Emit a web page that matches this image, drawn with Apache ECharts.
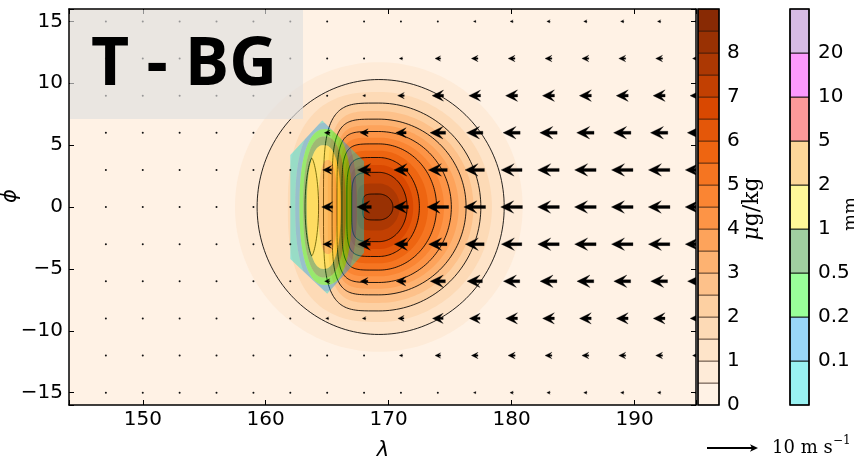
<!DOCTYPE html>
<html><head><meta charset="utf-8">
<script src="https://cdn.jsdelivr.net/npm/echarts@6/dist/echarts.min.js"></script>
<style>html,body{margin:0;padding:0;background:#fff}#c{width:854px;height:461px}</style>
</head><body><div id="c"></div>
<script>
// ---------------- data ----------------
const xRange = [144, 195];
const yRange = [-16, 16];

// concentration (µg/kg) filled-contour band boundaries
const concBounds = [0,0.5,1,1.5,2,2.5,3,3.5,4,4.5,5,5.5,6,6.5,7,7.5,8,8.5,9];
const concTickLabels = [0,1,2,3,4,5,6,7,8];
// contour shapes of the concentration field
const concCenter = [169.2, 0];
const fillLevels = [0.5,1,1.5,2,2.5,3,3.5,4,4.5,5,5.5,6,6.5,7,7.5,8];
const fillRx     = [11.7,10.2,9.2,8.3,7.7,7.1,6.5,5.9,5.3,4.7,4.0,3.3,2.8,2.3,1.7,1.15];
const fillRy     = [11.7,10.3,9.3,8.4,7.75,7.1,6.6,6.1,5.6,5.1,4.55,4.0,3.4,2.8,1.9,1.05];
const fillXLeft  = [157.5,159.3,161.8,164.7,165.05,165.4,165.6,165.8,166.0,166.2,166.4,166.6,166.8,167.0,167.45,167.9];
const fillBoxy   = [2,2,2.6,4,4,4.5,4.5,5,5,5,5,5,5,5,5,5];
// small closed contour west of the centre
const lensLevel = 2;
const lensCenter = [163.75, 0];
const lensRx = 0.55;
const lensRy = 3.95;

// precipitation (mm) bands
const precipBounds = [0.05,0.1,0.2,0.5,1,2,5,10,20];
const precipTickLabels = ['0.1','0.2','0.5','1','2','5','10','20'];
const precipHull = [[162,4.2],[164.6,7.0],[168,3.7],[168,-3.7],[165,-7.0],[162,-4.2]];
const precipLeft  = [null,162.4,162.75,163.05,163.35,164.3];
const precipRight = [null,167.4,167.0,166.5,166.1,165.8];
const precipHalfH = [null,6.8,6.3,5.7,5.0,3.8];

// wind (m/s) on a 3-degree grid, pivot at the grid point
const windX = [147,150,153,156,159,162,165,168,171,174,177,180,183,186,189,192,195];
const windY = [15,12,9,6,3,0,-3,-6,-9,-12,-15];
const windU = [
 [-0.05,-0.05,-0.05,-0.05,-0.05,-0.05,-0.05,-0.1,-0.2,-0.35,-0.5,-0.6,-0.65,-0.65,-0.65,-0.65,-0.65],
 [-0.05,-0.05,-0.05,-0.05,-0.05,-0.05,-0.1,-0.2,-0.65,-1.1,-1.3,-1.35,-1.35,-1.35,-1.35,-1.35,-1.35],
 [-0.05,-0.05,-0.05,-0.05,-0.05,-0.1,-0.4,-0.55,-1.3,-2.25,-2.3,-2.35,-2.35,-2.35,-2.35,-2.35,-2.35],
 [-0.05,-0.05,-0.05,-0.05,-0.1,-0.15,-1.1,-1.6,-2.05,-3.05,-3.2,-3.35,-3.4,-3.4,-3.4,-3.4,-3.4],
 [-0.05,-0.05,-0.05,-0.05,-0.1,-0.3,-1.75,-2.55,-2.75,-3.7,-3.8,-4.1,-4.2,-4.2,-4.2,-4.2,-4.2],
 [-0.05,-0.05,-0.05,-0.05,-0.1,-0.4,-2.15,-2.85,-2.95,-4.25,-4.25,-4.25,-4.25,-4.25,-4.25,-4.25,-4.25],
 [-0.05,-0.05,-0.05,-0.05,-0.1,-0.3,-1.7,-2.45,-2.6,-3.6,-3.7,-4.0,-4.2,-4.2,-4.2,-4.2,-4.2],
 [-0.05,-0.05,-0.05,-0.05,-0.1,-0.15,-1.0,-1.5,-1.9,-2.95,-3.0,-3.2,-3.3,-3.3,-3.3,-3.3,-3.3],
 [-0.05,-0.05,-0.05,-0.05,-0.1,-0.1,-0.6,-0.7,-1.2,-2.1,-2.1,-2.3,-2.3,-2.3,-2.3,-2.3,-2.3],
 [-0.05,-0.05,-0.05,-0.05,-0.05,-0.05,-0.1,-0.2,-0.65,-1.1,-1.3,-1.4,-1.35,-1.35,-1.35,-1.35,-1.35],
 [-0.05,-0.05,-0.05,-0.05,-0.05,-0.05,-0.05,-0.1,-0.2,-0.35,-0.5,-0.65,-0.65,-0.65,-0.65,-0.65,-0.65]
];
const keySpeed = 10;

// ---------------- styling helpers ----------------
const oranges = [[255,245,235],[254,230,206],[253,208,162],[253,174,107],[253,141,60],[241,105,19],[217,72,1],[166,54,3],[127,39,4]];
function orangeAt(f){
  const s = Math.max(0, Math.min(1, f)) * 8;
  const i = Math.min(7, Math.floor(s)), t = s - i;
  const a = oranges[i], b = oranges[i+1];
  return 'rgb(' + a.map((v,k)=>Math.round(v + (b[k]-v)*t)).join(',') + ')';
}
const nBands = concBounds.length - 1;
function bandColor(i){ return orangeAt((i + 0.5) / nBands); }
function bandIndexOf(level){ return concBounds.indexOf(level); }
const precipColors = ['#00dede','#0099ee','#00ff00','#118811','#ffee00','#f99a00','#f80000','#f800f8','#9955bb'];
const precipAlpha = 0.4;
const PX_PER_MS = 5.1;

function dShape(cx, cy, rx, ry, xl, p, n){
  const pts = [];
  for (let k=0;k<=n;k++){ const t=-Math.PI/2+Math.PI*k/n; pts.push([cx+rx*Math.cos(t), cy+ry*Math.sin(t)]); }
  const a = cx - xl, e = 2/p;
  for (let k=1;k<n;k++){ const t=Math.PI/2+Math.PI*k/n; const c=Math.cos(t), s=Math.sin(t);
    pts.push([cx - a*Math.pow(Math.abs(c),e), cy + ry*Math.sign(s)*Math.pow(Math.abs(s),e)]); }
  return pts;
}
function superEll(cx, cy, a, b, p, n){
  const pts=[], e=2/p;
  for (let k=0;k<n;k++){ const t=2*Math.PI*k/n; const c=Math.cos(t), s=Math.sin(t);
    pts.push([cx + a*Math.sign(c)*Math.pow(Math.abs(c),e), cy + b*Math.sign(s)*Math.pow(Math.abs(s),e)]); }
  return pts;
}
function lensShape(cx, cy, rx, ry, n){
  const pts=[];
  for (let k=0;k<n;k++){ const t=2*Math.PI*k/n; const c=Math.cos(t), s=Math.sin(t);
    pts.push([cx + rx*Math.sign(c)*Math.pow(Math.abs(c),1.4), cy + ry*s]); }
  return pts;
}
function signedArea(p){ let s=0; for(let i=0;i<p.length;i++){const a=p[i], b=p[(i+1)%p.length]; s+=a[0]*b[1]-b[0]*a[1];} return s/2; }
function clipPoly(subject, clip){
  const c = signedArea(clip) < 0 ? clip.slice().reverse() : clip;
  let out = subject;
  for (let i=0;i<c.length;i++){
    const A=c[i], B=c[(i+1)%c.length];
    const inp = out; out = [];
    if (!inp.length) break;
    const cr = P => (B[0]-A[0])*(P[1]-A[1]) - (B[1]-A[1])*(P[0]-A[0]);
    for (let j=0;j<inp.length;j++){
      const P=inp[j], Q=inp[(j+1)%inp.length];
      const cp=cr(P), cq=cr(Q);
      const X = () => { const t=cp/(cp-cq); return [P[0]+t*(Q[0]-P[0]), P[1]+t*(Q[1]-P[1])]; };
      if (cp>=0){ out.push(P); if (cq<0) out.push(X()); }
      else if (cq>=0) out.push(X());
    }
  }
  return out;
}
function precipPoly(k){
  if (k === 0) return precipHull.slice();
  if (k >= precipLeft.length) return [];
  const cx=(precipLeft[k]+precipRight[k])/2, a=(precipRight[k]-precipLeft[k])/2;
  return clipPoly(superEll(cx, 0, a, precipHalfH[k], 2.4, 96), precipHull);
}
function pathOf(pts){ return 'M' + pts.map(p=>p[0].toFixed(2)+' '+p[1].toFixed(2)).join('L') + 'Z'; }

function arrowPts(cx, cy, ux, uy, scale){
  const L = Math.hypot(ux, uy) * scale;
  const dx = ux/Math.hypot(ux,uy), dy = -uy/Math.hypot(ux,uy);
  let W=3.0, HL=13, HAL=9, HW=12.5;
  if (L < HL){ const k=L/HL; W*=k; HL*=k; HAL*=k; HW*=k; }
  const loc = [[0,-W/2],[L-HAL,-W/2],[L-HL,-HW/2],[L,0],[L-HL,HW/2],[L-HAL,W/2],[0,W/2]];
  const tx = cx - dx*L/2, ty = cy - dy*L/2;
  return loc.map(([s,t]) => [tx + dx*s - dy*t, ty + dy*s + dx*t]);
}
function keyArrowPts(x0, x1, y){
  const W=1.8, HL=8, HAL=6.5, HW=7.5, L=x1-x0;
  return [[x0,y-W/2],[x0+L-HAL,y-W/2],[x0+L-HL,y-HW/2],[x1,y],[x0+L-HL,y+HW/2],[x0+L-HAL,y+W/2],[x0,y+W/2]];
}

// ---------------- series data ----------------
const fillData = fillLevels.map((l,i)=>[concCenter[0], concCenter[1], i]);
fillData.push([lensCenter[0], lensCenter[1], -1]);
const lineData = [];
fillLevels.forEach((l,i)=>{ if (Number.isInteger(l)) lineData.push([concCenter[0], concCenter[1], i]); });
lineData.push([lensCenter[0], lensCenter[1], -1]);
const precipData = precipBounds.map((b,k)=>[165, 0, k]).filter(d=>precipPoly(d[2]).length);
const windData = [];
windY.forEach((y,r)=>windX.forEach((x,c)=>windData.push([x, y, windU[r][c], 0])));

function shapeFor(idx){
  if (idx < 0) return lensShape(lensCenter[0], lensCenter[1], lensRx, lensRy, 80);
  return dShape(concCenter[0], concCenter[1], fillRx[idx], fillRy[idx], fillXLeft[idx], fillBoxy[idx], 90);
}

const axisCommon = {
  type:'value', z:10, splitLine:{show:false},
  axisLine:{onZero:false, lineStyle:{color:'#000', width:1.5}},
  axisTick:{inside:true, length:5, lineStyle:{color:'#000', width:1}}
};
const lblFont = {color:'#000', fontSize:20, fontFamily:'DejaVu Sans'};

const chart = echarts.init(document.getElementById('c'), null, {renderer:'canvas'});
const option = {
  animation:false,
  backgroundColor:'#ffffff',
  grid:[
    {left:69, top:9, width:627, height:396, show:true, backgroundColor:bandColor(0), borderWidth:0},
    {left:698, top:9, width:21, height:396},
    {left:790, top:9, width:19, height:396}
  ],
  xAxis:[
    Object.assign({}, axisCommon, {gridIndex:0, min:xRange[0], max:xRange[1], splitNumber:5, position:'bottom',
      axisLabel:Object.assign({margin:5, formatter:v=> v%10===0 ? String(v) : ''}, lblFont)}),
    Object.assign({}, axisCommon, {gridIndex:0, min:xRange[0], max:xRange[1], splitNumber:5, position:'top', axisLabel:{show:false}}),
    {gridIndex:1, type:'value', min:0, max:1, show:false},
    {gridIndex:2, type:'value', min:0, max:1, show:false}
  ],
  yAxis:[
    Object.assign({}, axisCommon, {gridIndex:0, min:yRange[0], max:yRange[1], splitNumber:6, position:'left',
      axisLabel:Object.assign({margin:6, formatter:v=> v%5===0 ? String(v).replace('-','\u2212') : ''}, lblFont)}),
    Object.assign({}, axisCommon, {gridIndex:0, min:yRange[0], max:yRange[1], splitNumber:6, position:'right', axisLabel:{show:false}}),
    {gridIndex:1, type:'value', min:0, max:9, interval:1, position:'right', splitLine:{show:false}, axisLine:{show:false}, axisTick:{show:false},
      axisLabel:Object.assign({margin:8, formatter:v=> concTickLabels.indexOf(v)>=0 ? String(v) : ''}, lblFont)},
    {gridIndex:2, type:'value', min:0, max:9, interval:1, position:'right', splitLine:{show:false}, axisLine:{show:false}, axisTick:{show:false},
      axisLabel:Object.assign({margin:9, formatter:v=> (v>=1 && v<=8) ? precipTickLabels[v-1] : ''}, lblFont)}
  ],
  series:[
    { // filled concentration contours
      type:'custom', xAxisIndex:0, yAxisIndex:0, z:1, clip:true, silent:true, data:fillData,
      renderItem:(params, api)=>{
        const idx = api.value(2);
        const lvl = idx < 0 ? lensLevel : fillLevels[idx];
        const pts = shapeFor(idx).map(p=>api.coord(p));
        return {type:'polygon', shape:{points:pts}, style:{fill:bandColor(bandIndexOf(lvl)), stroke:null}};
      }
    },
    { // contour lines
      type:'custom', xAxisIndex:0, yAxisIndex:0, z:2, clip:true, silent:true, data:lineData,
      renderItem:(params, api)=>{
        const pts = shapeFor(api.value(2)).map(p=>api.coord(p));
        return {type:'polygon', shape:{points:pts}, style:{fill:'none', stroke:'rgba(0,0,0,0.85)', lineWidth:1}};
      }
    },
    { // precipitation bands (translucent)
      type:'custom', xAxisIndex:0, yAxisIndex:0, z:3, clip:true, silent:true, data:precipData,
      renderItem:(params, api)=>{
        const k = api.value(2);
        const outer = precipPoly(k).map(p=>api.coord(p));
        let inner = precipPoly(k+1).map(p=>api.coord(p));
        let d = pathOf(outer);
        if (inner.length){
          if (Math.sign(signedArea(inner)) === Math.sign(signedArea(outer))) inner = inner.reverse();
          d += pathOf(inner);
        }
        return {type:'path', shape:{pathData:d}, style:{fill:precipColors[k], opacity:precipAlpha, stroke:null}};
      }
    },
    { // wind arrows
      type:'custom', xAxisIndex:0, yAxisIndex:0, z:4, clip:true, silent:true, data:windData,
      renderItem:(params, api)=>{
        const c = api.coord([api.value(0), api.value(1)]);
        const u = api.value(2), v = api.value(3);
        const L = Math.hypot(u,v)*PX_PER_MS;
        if (L < 2.1) return {type:'circle', shape:{cx:c[0], cy:c[1], r:1.0}, style:{fill:'#111'}};
        return {type:'polygon', shape:{points:arrowPts(c[0], c[1], u, v, PX_PER_MS)}, style:{fill:'#000', stroke:'rgba(0,0,0,0.5)', lineWidth:0.6}};
      }
    },
    { // concentration colorbar
      type:'custom', xAxisIndex:2, yAxisIndex:2, z:2, silent:true, data:concBounds.slice(0,-1).map((b,i)=>[0,i]),
      renderItem:(params, api)=>{
        const i = api.value(1);
        const a = api.coord([0, i*9/nBands]), b = api.coord([1, (i+1)*9/nBands]);
        return {type:'rect', shape:{x:a[0], y:b[1], width:b[0]-a[0], height:a[1]-b[1]},
          style:{fill:bandColor(i), stroke:'rgba(40,20,10,0.75)', lineWidth:0.8}};
      }
    },
    { // precip colorbar
      type:'custom', xAxisIndex:3, yAxisIndex:3, z:2, silent:true, data:precipBounds.map((b,i)=>[0,i]),
      renderItem:(params, api)=>{
        const i = api.value(1);
        const a = api.coord([0, i]), b = api.coord([1, i+1]);
        return {type:'group', children:[
          {type:'rect', shape:{x:a[0], y:b[1], width:b[0]-a[0], height:a[1]-b[1]}, style:{fill:'#fff'}},
          {type:'rect', shape:{x:a[0], y:b[1], width:b[0]-a[0], height:a[1]-b[1]}, style:{fill:precipColors[i], opacity:precipAlpha}},
          {type:'rect', shape:{x:a[0], y:b[1], width:b[0]-a[0], height:a[1]-b[1]}, style:{fill:'none', stroke:'rgba(0,0,0,0.8)', lineWidth:1}}
        ]};
      }
    },
    { // colorbar outlines
      type:'custom', xAxisIndex:2, yAxisIndex:2, z:5, silent:true, data:[[0,0]],
      renderItem:(params, api)=>{
        const a = api.coord([0,0]), b = api.coord([1,9]);
        return {type:'rect', shape:{x:a[0], y:b[1], width:b[0]-a[0], height:a[1]-b[1]}, style:{fill:'none', stroke:'#000', lineWidth:1.6}};
      }
    },
    {
      type:'custom', xAxisIndex:3, yAxisIndex:3, z:5, silent:true, data:[[0,0]],
      renderItem:(params, api)=>{
        const a = api.coord([0,0]), b = api.coord([1,9]);
        return {type:'rect', shape:{x:a[0], y:b[1], width:b[0]-a[0], height:a[1]-b[1]}, style:{fill:'none', stroke:'#000', lineWidth:1.6}};
      }
    }
  ],
  graphic:[
    {type:'rect', z:50, shape:{x:70, y:10, width:233, height:109}, style:{fill:'rgba(222,222,222,0.65)'}},
    {type:'text', z:60, x:184, y:66, style:{text:'T - BG', fontSize:66, fontWeight:'bold', fontFamily:'Open Sans', fill:'#000', align:'center', verticalAlign:'middle'}},
    {type:'text', z:60, x:383, y:451, style:{text:'\u03bb', fontSize:21, fontStyle:'italic', fontFamily:'DejaVu Sans', fill:'#000', align:'center', verticalAlign:'middle'}},
    {type:'text', z:60, x:11, y:196, rotation:Math.PI/2, style:{text:'\u03d5', fontSize:21, fontStyle:'italic', fontFamily:'DejaVu Sans', fill:'#000', align:'center', verticalAlign:'middle'}},
    {type:'text', z:60, x:752, y:209, rotation:Math.PI/2, style:{text:'{i|\u03bc}g/kg', fontSize:22, fontFamily:'DejaVu Serif', fill:'#000', align:'center', verticalAlign:'middle',
      rich:{i:{fontStyle:'italic', fontSize:22, fontFamily:'DejaVu Serif'}}}},
    {type:'text', z:60, x:851, y:214, rotation:Math.PI/2, style:{text:'mm', fontSize:18, fontFamily:'DejaVu Serif', fill:'#000', align:'center', verticalAlign:'middle'}},
    {type:'polygon', z:60, shape:{points:keyArrowPts(707, 758, 448)}, style:{fill:'#000'}},
    {type:'text', z:60, x:772, y:448, style:{text:'10 m s', fontSize:18, fontFamily:'DejaVu Serif', fill:'#000', align:'left', verticalAlign:'middle'}},
    {type:'text', z:60, x:833, y:441, style:{text:'\u22121', fontSize:12, fontFamily:'DejaVu Serif', fill:'#000', align:'left', verticalAlign:'middle'}}
  ]
};
chart.setOption(option);
</script></body></html>
